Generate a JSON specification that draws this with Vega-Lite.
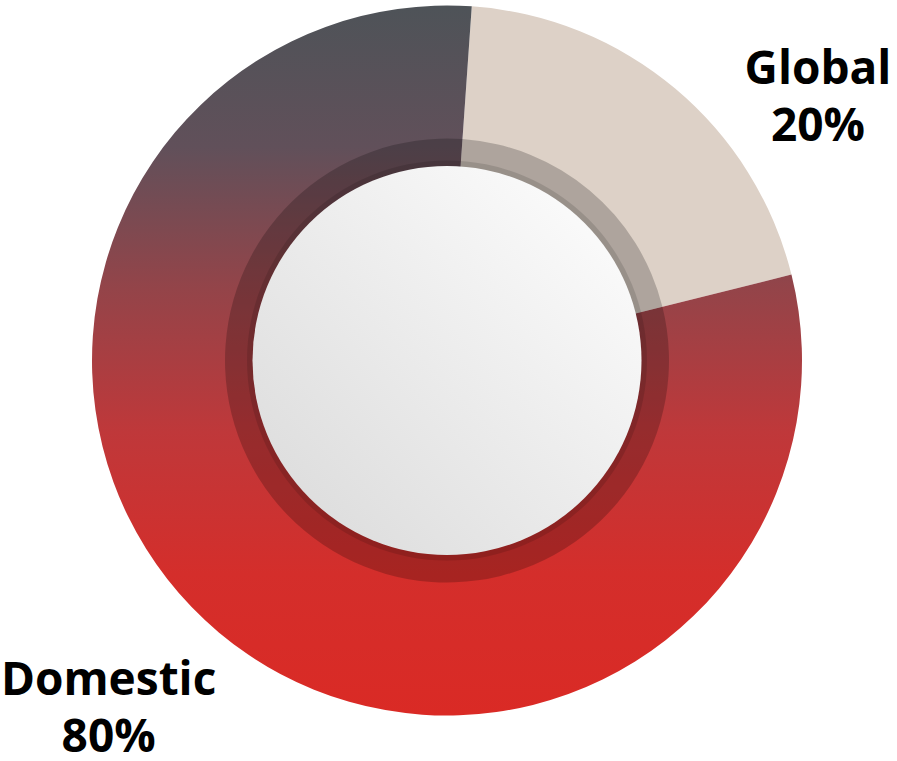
{
  "$schema": "https://vega.github.io/schema/vega-lite/v6.json",
  "autosize": {"type": "none"},
  "width": 894,
  "height": 721,
  "padding": {"left": 0, "top": 0, "right": 3, "bottom": 40},
  "background": "white",
  "config": {"view": {"stroke": null}},
  "data": {
    "values": [
      {"category": "Global", "share": 20, "label": "Global\n20%"},
      {"category": "Domestic", "share": 80, "label": "Domestic\n80%"}
    ]
  },
  "layer": [
    {
      "mark": {"type": "arc", "outerRadius": 355, "innerRadius": 185},
      "encoding": {
        "theta": {"field": "share", "type": "quantitative", "stack": true, "scale": {"range": [0.0698, 6.353]}},
        "order": {"field": "category", "type": "nominal", "sort": "descending"},
        "fill": {
          "condition": {"test": "datum.category === 'Global'", "value": "#DDD1C7"},
          "value": {
            "gradient": "linear", "x1": 0, "y1": 0, "x2": 0, "y2": 1,
            "stops": [
              {"offset": 0, "color": "#4E5358"},
              {"offset": 0.2, "color": "#61505A"},
              {"offset": 0.4, "color": "#944449"},
              {"offset": 0.6, "color": "#BF383A"},
              {"offset": 0.8, "color": "#D42E2B"},
              {"offset": 1, "color": "#DA2A25"}
            ]
          }
        }
      }
    },
    {
      "mark": {"type": "arc", "outerRadius": 222, "innerRadius": 185, "fill": "black", "opacity": 0.21},
      "encoding": {
        "theta": {"field": "share", "type": "quantitative", "stack": true, "scale": {"range": [0.0698, 6.353]}},
        "order": {"field": "category", "type": "nominal", "sort": "descending"}
      }
    },
    {
      "data": {"values": [{"part": "center"}]},
      "mark": {"type": "arc", "outerRadius": 200, "innerRadius": 193, "theta": 0, "theta2": 6.2832, "fill": "black", "opacity": 0.12},
      "encoding": {}
    },
    {
      "data": {"values": [{"part": "center"}]},
      "mark": {
        "type": "arc", "outerRadius": 194.5, "innerRadius": 0, "theta": 0, "theta2": 6.2832,
        "fill": {
          "gradient": "linear", "x1": 1, "y1": 0, "x2": 0, "y2": 1,
          "stops": [
            {"offset": 0, "color": "#FFFFFF"},
            {"offset": 1, "color": "#D9D9D9"}
          ]
        }
      },
      "encoding": {}
    },
    {
      "mark": {
        "type": "text", "radius": 470, "dx": -11, "dy": -17,
        "font": "Open Sans", "fontSize": 46, "fontWeight": "bold",
        "lineBreak": "\n", "lineHeight": 57, "align": "center", "baseline": "middle", "color": "#000000"
      },
      "encoding": {
        "theta": {"field": "share", "type": "quantitative", "stack": true, "scale": {"range": [0.356, 6.283]}},
        "order": {"field": "category", "type": "nominal", "sort": "descending"},
        "text": {"field": "label", "type": "nominal"}
      }
    }
  ],
  "resolve": {"scale": {"theta": "independent"}}
}
